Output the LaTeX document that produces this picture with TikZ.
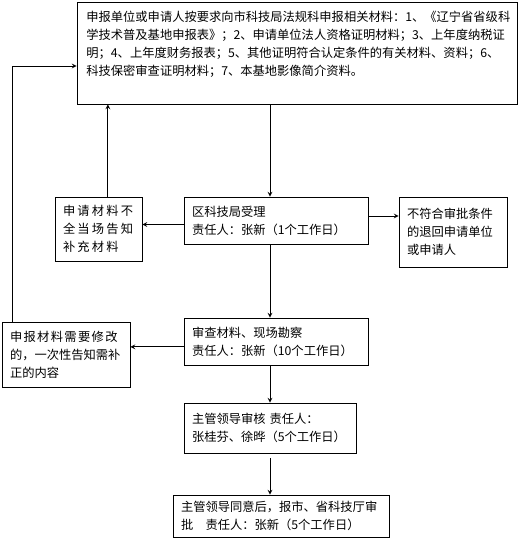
\documentclass[tikz,border=0pt]{standalone}
\usepackage{fontspec}
\setmainfont{Noto Sans CJK SC}
\newfontfamily\widecjk[LetterSpace=18]{Noto Sans CJK SC}
\newfontfamily\semiwidecjk[LetterSpace=11]{Noto Sans CJK SC}
\tikzset{stepbox/.style={draw, line width=0.6pt, inner xsep=6pt, inner ysep=3pt, align=left}}
\begin{document}
\begin{tikzpicture}[x=0.75pt, y=-0.75pt, >=stealth, line width=0.6pt, font=\fontsize{9.2pt}{13.5pt}\selectfont]
				\useasboundingbox (0,0) rectangle (519,548);
				\coordinate (spine) at (270,0);
				\coordinate (backL) at (12,66);
				% boxes
				\node[draw, line width=0.6pt, minimum width=330pt, minimum height=76.5pt] (topBox) at (297,53) {};
				\node[anchor=north west, inner sep=0pt, text width=322pt, align=left] (topText) at (86,11) {申报单位或申请人按要求向市科技局法规科申报相关材料：1、《辽宁省省级科\\学技术普及基地申报表》；2、申请单位法人资格证明材料；3、上年度纳税证\\明；4、上年度财务报表；5、其他证明符合认定条件的有关材料、资料；6、\\科技保密审查证明材料；7、本基地影像简介资料。};
				\node[stepbox, text width=53.25pt, minimum height=48pt] (lack) at (98.5,229) {\widecjk 申请材料不\\\widecjk 全当场告知\\\widecjk 补充材料};
				\node[stepbox, text width=126pt, minimum height=35.25pt] (accept) at (276,220.5) {区科技局受理\\责任人：张新（1个工作日）};
				\node[stepbox, text width=69pt, minimum height=52.5pt] (reject) at (453,232) {不符合审批条件\\的退回申请单位\\或申请人};
				\node[stepbox, text width=84pt, minimum height=48.75pt] (revise) at (66,354.5) {{\semiwidecjk 申报材料需要修改}\\的，一次性告知需补\\正的内容};
				\node[stepbox, text width=126pt, minimum height=35.25pt] (review) at (276,341.5) {审查材料、现场勘察\\责任人：张新（10个工作日）};
				\node[stepbox, text width=117pt, minimum height=37.5pt] (leader) at (270,428) {主管领导审核 责任人：\\张桂芬、徐晔（5个工作日）};
				\node[stepbox, text width=150pt, minimum height=31.5pt] (final) at (281,516) {主管领导同意后，报市、省科技厅审\\批\hspace{1em}责任人：张新（5个工作日）};
				% connectors
				\draw[->] (topBox.south -| spine) -- (accept.north -| spine);
				\draw[->] ([yshift=-3pt]accept.west) -- ([yshift=-3pt]accept.west -| lack.east);
				\draw[->] ([xshift=7pt]lack.north) -- ([xshift=7pt]lack.north |- topBox.south);
				\draw[->] ([yshift=3.4pt]accept.east) -- ([yshift=3.4pt]accept.east -| reject.west);
				\draw[->] (accept.south -| spine) -- (review.north -| spine);
				\draw[->] ([yshift=-4pt]review.west) -- ([yshift=-4pt]review.west -| revise.east);
				\draw[->] (revise.north -| backL) -- (backL) -- (backL -| topBox.west);
				\draw[->] (review.south -| spine) -- (leader.north -| spine);
				\draw[->, shorten <=3.75pt] (leader.south -| spine) -- (final.north -| spine);
			\end{tikzpicture}
\end{document}
